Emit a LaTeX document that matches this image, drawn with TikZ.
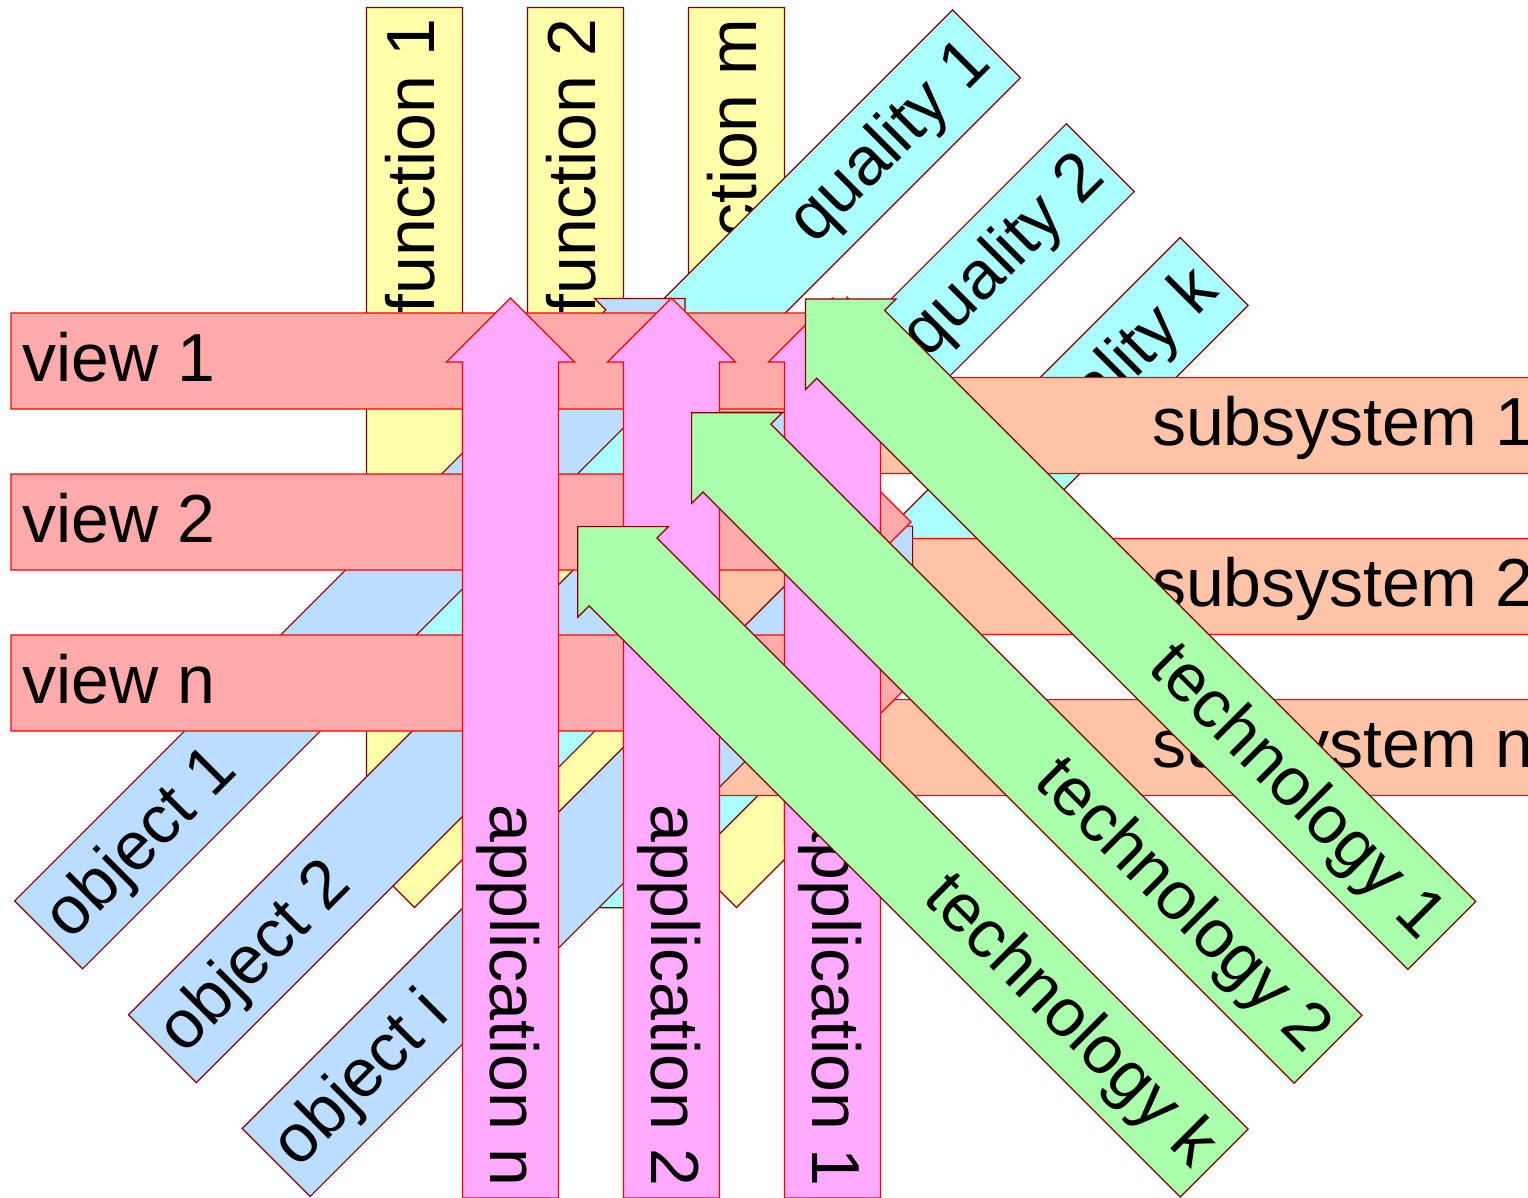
\documentclass[tikz,border=0pt]{standalone}
\usepackage{fontspec}
\setmainfont{Liberation Sans}
\usepackage{xcolor}
\definecolor{linered}{HTML}{FF0000}
\definecolor{linedark}{HTML}{800000}
\definecolor{viewcol}{HTML}{FFAAAA}
\definecolor{subcol}{HTML}{FFC4A8}
\definecolor{funcol}{HTML}{FFFFAA}
\definecolor{appcol}{HTML}{FFAAFF}
\definecolor{objcol}{HTML}{BBDDFF}
\definecolor{qualcol}{HTML}{AAFFFF}
\definecolor{techcol}{HTML}{AAFFAA}

\newcommand{\bararrow}[6]{%
	\begin{scope}[shift={#2},rotate=#3]
		\draw[#1] (0,0)--(-64,64)--(-64,48)--(-900,48)--(-900,-48)--(-64,-48)--(-64,-64)--cycle;
		\node[#4] (#5) at (-889,0) {#6};
	\end{scope}}

\begin{document}
\begin{tikzpicture}[x=1pt,y=-1pt,
		bar/.style={line width=1.2pt,line join=miter},
		viewbar/.style={bar,draw=linered,fill=viewcol},
		subbar/.style={bar,draw=linered,fill=subcol},
		appbar/.style={bar,draw=linered,fill=appcol},
		funbar/.style={bar,draw=linedark,fill=funcol},
		objbar/.style={bar,draw=linedark,fill=objcol},
		qualbar/.style={bar,draw=linedark,fill=qualcol},
		techbar/.style={bar,draw=linedark,fill=techcol},
		lbl/.style={font=\fontsize{68}{80}\selectfont,inner sep=0pt,text height=51pt,text depth=10.2pt,transform shape},
		lblfwd/.style={lbl,anchor=west},
		lblback/.style={lbl,anchor=east,rotate=180}]
		\useasboundingbox (0,0) rectangle (1528,1198);
		\clip (0,0) rectangle (1528,1198);
		
		\bararrow{funbar}{(414.5,907.5)}{-90}{lblback}{fun1}{function 1}
		\bararrow{funbar}{(575.5,907.5)}{-90}{lblback}{fun2}{function 2}
		\bararrow{funbar}{(736.5,907.5)}{-90}{lblback}{funm}{function m}
		
		\bararrow{qualbar}{(350.2,680.2)}{-135}{lblback}{qual1}{quality 1}
		\bararrow{qualbar}{(464,794)}{-135}{lblback}{qual2}{quality 2}
		\bararrow{qualbar}{(577.8,907.8)}{-135}{lblback}{qualk}{quality k}
		
		\bararrow{subbar}{(645,425.5)}{180}{lblback}{sub1}{subsystem 1}
		\bararrow{subbar}{(645,586.5)}{180}{lblback}{sub2}{subsystem 2}
		\bararrow{subbar}{(645,747.5)}{180}{lblback}{subn}{subsystem n}
		
		\bararrow{objbar}{(685,298.5)}{45}{lblfwd}{obj1}{object 1}
		\bararrow{objbar}{(798.8,412.3)}{45}{lblfwd}{obj2}{object 2}
		\bararrow{objbar}{(912.6,526.1)}{45}{lblfwd}{obji}{object i}
		
		\bararrow{viewbar}{(911,361)}{0}{lblfwd}{view1}{view 1}
		\bararrow{viewbar}{(911,522)}{0}{lblfwd}{view2}{view 2}
		\bararrow{viewbar}{(911,683)}{0}{lblfwd}{viewn}{view n}
		
		\bararrow{appbar}{(510.5,298)}{90}{lblback}{appn}{application n}
		\bararrow{appbar}{(671.5,298)}{90}{lblback}{app2}{application 2}
		\bararrow{appbar}{(832.5,298)}{90}{lblback}{app1}{application 1}
		
		\bararrow{techbar}{(805.4,299)}{135}{lblback}{tech1}{technology 1}
		\bararrow{techbar}{(691.6,412.8)}{135}{lblback}{tech2}{technology 2}
		\bararrow{techbar}{(577.8,526.6)}{135}{lblback}{techk}{technology k}
	\end{tikzpicture}
\end{document}
